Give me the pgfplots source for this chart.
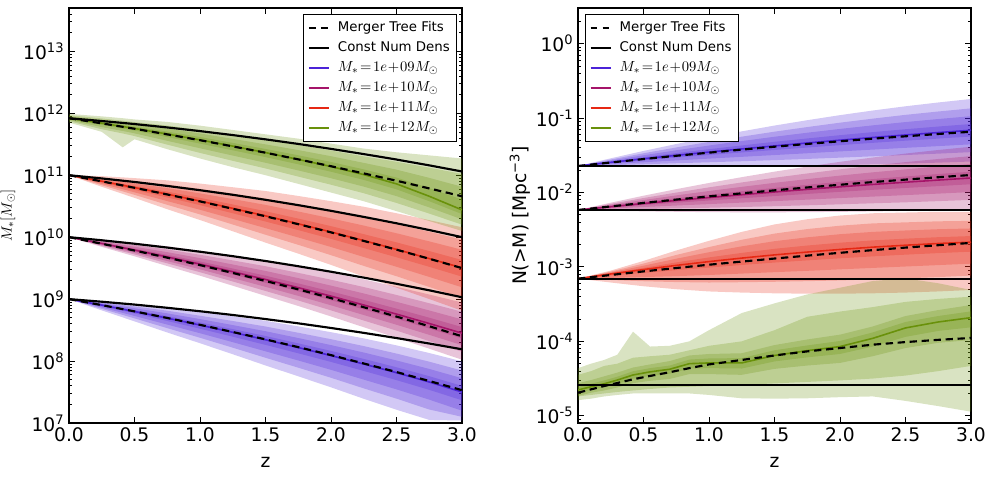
\documentclass[border=0pt]{standalone}
\usepackage{fontspec}
\setmainfont{DejaVu Sans}
\usepackage{pgfplots}
\pgfplotsset{compat=1.18}
\usepackage{pgfplotstable}
\usepgfplotslibrary{fillbetween}

\definecolor{cNine}{RGB}{75,35,215}
\definecolor{cTen}{RGB}{165,20,105}
\definecolor{cEleven}{RGB}{230,40,20}
\definecolor{cTwelve}{RGB}{105,145,10}

% All values are log10: stellar mass (left) and number density (right).
% med = median track, dash = merger tree fit, cnd = constant number density,
% lo/hi 1..4 = nested percentile bands (outer to inner).
\pgfplotstableread{
z med dash cnd lo1 hi1 lo2 hi2 lo3 hi3 lo4 hi4
0 9.000 9.000 9.000 9.000 9.000 9.000 9.000 9.000 9.000 9.000 9.000
0.25 8.903 8.903 8.958 8.818 8.966 8.843 8.947 8.865 8.931 8.886 8.916
0.5 8.800 8.802 8.912 8.641 8.917 8.689 8.882 8.728 8.853 8.768 8.823
0.75 8.693 8.696 8.860 8.461 8.864 8.531 8.813 8.589 8.770 8.647 8.727
1.0 8.581 8.585 8.804 8.288 8.797 8.376 8.732 8.449 8.678 8.522 8.624
1.25 8.464 8.469 8.744 8.110 8.725 8.216 8.647 8.305 8.581 8.393 8.516
1.5 8.344 8.350 8.678 7.929 8.650 8.053 8.558 8.157 8.482 8.261 8.405
1.75 8.218 8.225 8.609 7.754 8.560 7.893 8.457 8.009 8.372 8.125 8.286
2.0 8.088 8.096 8.534 7.576 8.466 7.730 8.353 7.858 8.258 7.986 8.164
2.25 7.952 7.961 8.455 7.391 8.366 7.559 8.242 7.700 8.138 7.840 8.035
2.5 7.812 7.823 8.371 7.214 8.253 7.393 8.121 7.543 8.010 7.692 7.900
2.75 7.662 7.678 8.283 7.050 8.130 7.218 7.990 7.377 7.873 7.535 7.756
3.0 7.500 7.530 8.190 7.040 7.995 7.100 7.847 7.198 7.723 7.366 7.599
}\LB
\pgfplotstableread{
z med dash cnd lo1 hi1 lo2 hi2 lo3 hi3 lo4 hi4
0 10.000 10.000 10.000 10.000 10.000 10.000 10.000 10.000 10.000 10.000 10.000
0.25 9.898 9.894 9.950 9.843 9.961 9.859 9.942 9.873 9.926 9.887 9.911
0.5 9.792 9.784 9.894 9.691 9.909 9.721 9.874 9.747 9.845 9.772 9.815
0.75 9.681 9.669 9.832 9.533 9.852 9.577 9.801 9.614 9.758 9.651 9.715
1.0 9.565 9.549 9.765 9.378 9.781 9.434 9.716 9.481 9.662 9.528 9.608
1.25 9.442 9.422 9.693 9.216 9.703 9.284 9.625 9.340 9.559 9.397 9.494
1.5 9.317 9.293 9.615 9.052 9.623 9.131 9.531 9.198 9.455 9.264 9.378
1.75 9.185 9.157 9.531 8.889 9.527 8.978 9.424 9.052 9.339 9.126 9.253
2.0 9.048 9.016 9.442 8.720 9.426 8.818 9.313 8.900 9.218 8.982 9.124
2.25 8.905 8.869 9.347 8.546 9.319 8.654 9.195 8.743 9.091 8.833 8.988
2.5 8.758 8.718 9.247 8.376 9.199 8.491 9.067 8.586 8.956 8.682 8.846
2.75 8.606 8.562 9.142 8.200 9.074 8.322 8.934 8.423 8.817 8.525 8.700
3.0 8.450 8.400 9.030 8.021 8.945 8.150 8.797 8.257 8.673 8.364 8.549
}\LM
\pgfplotstableread{
z med dash cnd lo1 hi1 lo2 hi2 lo3 hi3 lo4 hi4
0 11.000 11.000 11.000 11.000 11.000 11.000 11.000 11.000 11.000 11.000 11.000
0.25 10.903 10.901 10.948 10.813 10.985 10.839 10.960 10.861 10.939 10.883 10.918
0.5 10.801 10.797 10.891 10.634 10.953 10.683 10.906 10.724 10.867 10.764 10.828
0.75 10.694 10.689 10.827 10.451 10.917 10.522 10.849 10.582 10.792 10.641 10.735
1.0 10.583 10.577 10.758 10.277 10.865 10.367 10.779 10.442 10.707 10.517 10.635
1.25 10.465 10.458 10.684 10.095 10.806 10.204 10.702 10.295 10.615 10.385 10.528
1.5 10.344 10.337 10.603 9.912 10.745 10.039 10.623 10.146 10.521 10.252 10.419
1.75 10.216 10.209 10.517 9.734 10.665 9.876 10.528 9.995 10.414 10.114 10.300
2.0 10.084 10.077 10.425 9.552 10.581 9.709 10.430 9.841 10.304 9.972 10.178
2.25 9.945 9.939 10.327 9.364 10.491 9.536 10.325 9.680 10.187 9.824 10.049
2.5 9.803 9.798 10.224 9.185 10.386 9.369 10.210 9.522 10.063 9.675 9.916
2.75 9.654 9.651 10.115 9.001 10.275 9.196 10.088 9.358 9.932 9.521 9.776
3.0 9.505 9.500 10.000 8.812 10.160 9.018 9.962 9.190 9.797 9.362 9.632
}\LR
\pgfplotstableread{
z med dash cnd lo1 hi1 lo2 hi2 lo3 hi3 lo4 hi4
0 11.920 11.920 11.920 11.850 11.990 11.871 11.969 11.888 11.952 11.906 11.934
0.25 11.840 11.837 11.875 11.700 11.950 11.742 11.917 11.777 11.890 11.812 11.862
0.41 11.786 11.781 11.844 11.450 11.920 11.674 11.880 11.714 11.846 11.754 11.813
0.5 11.755 11.750 11.826 11.580 11.900 11.632 11.857 11.676 11.820 11.720 11.784
0.75 11.665 11.659 11.771 11.420 11.860 11.493 11.802 11.555 11.753 11.616 11.704
1.0 11.570 11.565 11.712 11.270 11.800 11.360 11.731 11.435 11.674 11.510 11.616
1.25 11.470 11.465 11.648 11.130 11.730 11.232 11.652 11.317 11.587 11.402 11.522
1.5 11.365 11.363 11.579 11.000 11.660 11.109 11.572 11.201 11.498 11.292 11.424
1.75 11.255 11.256 11.505 10.860 11.590 10.978 11.490 11.077 11.406 11.176 11.322
2.0 11.140 11.145 11.425 10.720 11.510 10.846 11.399 10.951 11.307 11.056 11.214
2.25 11.010 11.029 11.341 10.580 11.430 10.709 11.304 10.816 11.199 10.924 11.094
2.5 10.860 10.911 11.253 10.420 11.370 10.552 11.217 10.662 11.090 10.772 10.962
2.75 10.660 10.787 11.159 10.260 11.320 10.380 11.122 10.480 10.957 10.580 10.792
3.0 10.440 10.660 11.060 10.100 11.270 10.202 11.021 10.287 10.814 10.372 10.606
}\LG
\pgfplotstableread{
z med dash cnd lo1 hi1 lo2 hi2 lo3 hi3 lo4 hi4
0 -1.645 -1.645 -1.645 -1.645 -1.645 -1.645 -1.645 -1.645 -1.645 -1.645 -1.645
0.25 -1.596 -1.598 -1.645 -1.650 -1.542 -1.634 -1.558 -1.620 -1.572 -1.607 -1.585
0.5 -1.548 -1.552 -1.645 -1.653 -1.443 -1.622 -1.474 -1.595 -1.501 -1.569 -1.527
0.75 -1.502 -1.508 -1.645 -1.654 -1.350 -1.608 -1.396 -1.570 -1.434 -1.532 -1.472
1.0 -1.458 -1.466 -1.645 -1.654 -1.262 -1.595 -1.321 -1.546 -1.370 -1.497 -1.419
1.25 -1.416 -1.425 -1.645 -1.652 -1.180 -1.581 -1.251 -1.522 -1.310 -1.463 -1.369
1.5 -1.375 -1.386 -1.645 -1.648 -1.102 -1.566 -1.184 -1.498 -1.252 -1.430 -1.320
1.75 -1.336 -1.349 -1.645 -1.642 -1.030 -1.550 -1.122 -1.474 -1.198 -1.397 -1.275
2.0 -1.298 -1.313 -1.645 -1.634 -0.962 -1.533 -1.063 -1.449 -1.147 -1.365 -1.231
2.25 -1.262 -1.278 -1.645 -1.624 -0.900 -1.515 -1.009 -1.425 -1.099 -1.334 -1.190
2.5 -1.228 -1.246 -1.645 -1.613 -0.843 -1.498 -0.958 -1.401 -1.055 -1.305 -1.151
2.75 -1.196 -1.215 -1.645 -1.600 -0.792 -1.479 -0.913 -1.378 -1.014 -1.277 -1.115
3.0 -1.165 -1.185 -1.645 -1.585 -0.745 -1.459 -0.871 -1.354 -0.976 -1.249 -1.081
}\RB
\pgfplotstableread{
z med dash cnd lo1 hi1 lo2 hi2 lo3 hi3 lo4 hi4
0 -2.236 -2.236 -2.236 -2.236 -2.236 -2.236 -2.236 -2.236 -2.236 -2.236 -2.236
0.25 -2.192 -2.188 -2.236 -2.246 -2.138 -2.230 -2.154 -2.216 -2.168 -2.203 -2.181
0.5 -2.149 -2.141 -2.236 -2.254 -2.044 -2.223 -2.075 -2.196 -2.102 -2.170 -2.128
0.75 -2.108 -2.096 -2.236 -2.260 -1.956 -2.214 -2.002 -2.176 -2.040 -2.138 -2.078
1.0 -2.069 -2.053 -2.236 -2.265 -1.873 -2.206 -1.932 -2.157 -1.981 -2.108 -2.030
1.25 -2.031 -2.012 -2.236 -2.267 -1.795 -2.196 -1.866 -2.137 -1.925 -2.078 -1.984
1.5 -1.994 -1.972 -2.236 -2.267 -1.721 -2.185 -1.803 -2.117 -1.871 -2.049 -1.939
1.75 -1.959 -1.933 -2.236 -2.265 -1.653 -2.173 -1.745 -2.097 -1.821 -2.020 -1.898
2.0 -1.925 -1.897 -2.236 -2.261 -1.589 -2.160 -1.690 -2.076 -1.774 -1.992 -1.858
2.25 -1.893 -1.861 -2.236 -2.255 -1.531 -2.146 -1.640 -2.056 -1.730 -1.965 -1.821
2.5 -1.863 -1.828 -2.236 -2.248 -1.478 -2.133 -1.593 -2.036 -1.690 -1.940 -1.786
2.75 -1.834 -1.796 -2.236 -2.238 -1.430 -2.117 -1.551 -2.016 -1.652 -1.915 -1.753
3.0 -1.806 -1.766 -2.236 -2.226 -1.386 -2.100 -1.512 -1.995 -1.617 -1.890 -1.722
}\RM
\pgfplotstableread{
z med dash cnd lo1 hi1 lo2 hi2 lo3 hi3 lo4 hi4
0 -3.158 -3.158 -3.158 -3.158 -3.158 -3.158 -3.158 -3.158 -3.158 -3.158 -3.158
0.25 -3.095 -3.109 -3.158 -3.210 -3.050 -3.176 -3.063 -3.147 -3.075 -3.118 -3.086
0.5 -3.036 -3.061 -3.158 -3.260 -2.920 -3.193 -2.955 -3.137 -2.984 -3.081 -3.013
0.75 -2.980 -3.015 -3.158 -3.300 -2.780 -3.204 -2.840 -3.124 -2.890 -3.044 -2.940
1.0 -2.929 -2.971 -3.158 -3.330 -2.650 -3.210 -2.734 -3.109 -2.803 -3.009 -2.873
1.25 -2.882 -2.929 -3.158 -3.345 -2.530 -3.206 -2.636 -3.090 -2.724 -2.975 -2.812
1.5 -2.839 -2.888 -3.158 -3.355 -2.430 -3.200 -2.553 -3.071 -2.655 -2.942 -2.757
1.75 -2.801 -2.849 -3.158 -3.360 -2.360 -3.192 -2.492 -3.053 -2.603 -2.913 -2.713
2.0 -2.766 -2.811 -3.158 -3.360 -2.310 -3.182 -2.447 -3.033 -2.561 -2.885 -2.675
2.25 -2.735 -2.775 -3.158 -3.355 -2.280 -3.169 -2.416 -3.014 -2.530 -2.859 -2.644
2.5 -2.709 -2.741 -3.158 -3.345 -2.270 -3.154 -2.402 -2.995 -2.511 -2.836 -2.621
2.75 -2.686 -2.709 -3.158 -3.330 -2.260 -3.137 -2.388 -2.976 -2.494 -2.815 -2.601
3.0 -2.668 -2.678 -3.158 -3.310 -2.260 -3.117 -2.382 -2.957 -2.484 -2.796 -2.586
}\RR
\pgfplotstableread{
z med dash cnd lo1 hi1 lo2 hi2 lo3 hi3 lo4 hi4
0 -4.653 -4.690 -4.586 -4.790 -4.360 -4.740 -4.450 -4.733 -4.563 -4.693 -4.613
0.1 -4.610 -4.645 -4.586 -4.770 -4.300 -4.720 -4.400 -4.690 -4.520 -4.650 -4.570
0.2 -4.570 -4.600 -4.586 -4.740 -4.250 -4.700 -4.330 -4.660 -4.470 -4.615 -4.525
0.3 -4.520 -4.560 -4.586 -4.720 -4.180 -4.680 -4.300 -4.620 -4.420 -4.570 -4.475
0.42 -4.452 -4.510 -4.586 -4.700 -3.870 -4.660 -4.220 -4.562 -4.352 -4.502 -4.402
0.55 -4.410 -4.465 -4.586 -4.700 -4.070 -4.640 -4.200 -4.530 -4.310 -4.465 -4.360
0.7 -4.375 -4.415 -4.586 -4.700 -4.060 -4.620 -4.180 -4.505 -4.265 -4.435 -4.325
0.85 -4.300 -4.360 -4.586 -4.700 -4.000 -4.610 -4.120 -4.440 -4.190 -4.365 -4.245
1.0 -4.290 -4.310 -4.586 -4.720 -3.850 -4.600 -4.060 -4.440 -4.170 -4.360 -4.230
1.25 -4.290 -4.250 -4.586 -4.765 -3.620 -4.585 -4.000 -4.450 -4.160 -4.365 -4.225
1.5 -4.190 -4.190 -4.586 -4.770 -3.490 -4.565 -3.850 -4.370 -4.050 -4.270 -4.120
1.75 -4.125 -4.135 -4.586 -4.765 -3.370 -4.545 -3.670 -4.325 -3.975 -4.215 -4.055
2.0 -4.070 -4.090 -4.586 -4.750 -3.280 -4.525 -3.600 -4.290 -3.910 -4.170 -3.995
2.25 -3.960 -4.045 -4.586 -4.740 -3.190 -4.500 -3.540 -4.200 -3.800 -4.070 -3.880
2.5 -3.820 -4.010 -4.586 -4.800 -3.155 -4.460 -3.470 -4.090 -3.660 -3.940 -3.740
2.75 -3.740 -3.980 -4.586 -4.870 -3.220 -4.400 -3.430 -4.020 -3.580 -3.860 -3.660
3.0 -3.682 -3.955 -4.586 -4.945 -3.310 -4.330 -3.400 -3.982 -3.512 -3.812 -3.597
}\RG

% one shaded percentile band: table, lower column, upper column, colour, path id
\newcommand{\oneband}[5]{%
  \addplot[name path=#5l, draw=none, forget plot] table[x=z, y=#2] {#1};
  \addplot[name path=#5u, draw=none, forget plot] table[x=z, y=#3] {#1};
  \addplot[fill=#4, fill opacity=0.25, draw=none, forget plot] fill between[of=#5l and #5u];
}
% the four nested bands of one mass bin
\newcommand{\allbands}[3]{%
  \oneband{#1}{lo1}{hi1}{#2}{#3a}
  \oneband{#1}{lo2}{hi2}{#2}{#3b}
  \oneband{#1}{lo3}{hi3}{#2}{#3c}
  \oneband{#1}{lo4}{hi4}{#2}{#3d}
}
% median, merger tree fit and constant number density tracks
\newcommand{\tracks}[2]{%
  \addplot[#2, line width=1.2pt, forget plot] table[x=z, y=med] {#1};
  \addplot[black, line width=1.6pt, dash pattern=on 5.5pt off 3.5pt, forget plot] table[x=z, y=dash] {#1};
  \addplot[black, line width=1.6pt, forget plot] table[x=z, y=cnd] {#1};
}
% mass label in the legend
\newcommand{\mlabel}[1]{{\fontsize{11}{12}\selectfont$M_*\!=\!1e\!+\!#1M_\odot$}}
% the six legend rows shared by both panels
\newcommand{\legendrows}{%
  \addlegendimage{black, line width=1.6pt, dash pattern=on 5pt off 4pt}
  \addlegendentry{Merger Tree Fits}
  \addlegendimage{black, line width=1.6pt}
  \addlegendentry{Const Num Dens}
  \addlegendimage{cNine, line width=1.6pt}
  \addlegendentry{\mlabel{09}}
  \addlegendimage{cTen, line width=1.6pt}
  \addlegendentry{\mlabel{10}}
  \addlegendimage{cEleven, line width=1.6pt}
  \addlegendentry{\mlabel{11}}
  \addlegendimage{cTwelve, line width=1.6pt}
  \addlegendentry{\mlabel{12}}
}

\pgfplotsset{
  panel/.style={
    scale only axis, width=294.75pt, height=311.25pt,
    xmin=0, xmax=3,
    xtick={0,0.5,1,1.5,2,2.5,3},
    xticklabels={0.0,0.5,1.0,1.5,2.0,2.5,3.0},
    tick align=inside, tick pos=both,
    major tick length=4.2pt, minor tick length=2.1pt,
    every tick/.style={black, line width=0.6pt},
    axis line style={line width=0.8pt},
    tick label style={font=\fontsize{14}{16}\selectfont},
    label style={font=\fontsize{14}{16}\selectfont},
    xlabel={z},
    xlabel style={at={(axis description cs:0.5,-0.094)}, anchor=center},
    legend cell align=left,
    legend image code/.code={\draw[##1] (0pt,0pt) -- (15pt,0pt);},
    legend style={font=\fontsize{10}{12}\selectfont, draw=black, line width=0.75pt,
      inner xsep=3pt, inner ysep=2.5pt, row sep=0pt, column sep=4pt,
      nodes={text height=7.8pt, text depth=2.8pt, inner ysep=2.2pt}},
  },
}

\begin{document}
\begin{tikzpicture}

% stellar mass growth
\begin{axis}[panel,
  at={(51.75pt,42.75pt)}, anchor=south west,
  ymin=7, ymax=13.699,
  ytick={7,8,9,10,11,12,13},
  yticklabels={10\textsuperscript{7},10\textsuperscript{8},10\textsuperscript{9},10\textsuperscript{10},10\textsuperscript{11},10\textsuperscript{12},10\textsuperscript{13}},
  minor ytick={7.301,7.477,7.602,7.699,7.778,7.845,7.903,7.954,
    8.301,8.477,8.602,8.699,8.778,8.845,8.903,8.954,
    9.301,9.477,9.602,9.699,9.778,9.845,9.903,9.954,
    10.301,10.477,10.602,10.699,10.778,10.845,10.903,10.954,
    11.301,11.477,11.602,11.699,11.778,11.845,11.903,11.954,
    12.301,12.477,12.602,12.699,12.778,12.845,12.903,12.954,
    13.301,13.477,13.602},
  ylabel={$M_*[M_\odot]$},
  ylabel style={at={(axis description cs:-0.155,0.5)}, anchor=center, font=\fontsize{11}{13}\selectfont},
  legend style={at={(1,1)}, anchor=north east, xshift=-3.75pt, yshift=-4.5pt},
]
\legendrows
\allbands{\LB}{cNine}{LB}
\allbands{\LM}{cTen}{LM}
\allbands{\LR}{cEleven}{LR}
\allbands{\LG}{cTwelve}{LG}
\tracks{\LB}{cNine}
\tracks{\LM}{cTen}
\tracks{\LR}{cEleven}
\tracks{\LG}{cTwelve}
\end{axis}

% cumulative number density
\begin{axis}[panel,
  at={(433.5pt,42.75pt)}, anchor=south west,
  ymin=-5.097, ymax=0.477,
  ytick={-5,-4,-3,-2,-1,0},
  yticklabels={10\textsuperscript{-5},10\textsuperscript{-4},10\textsuperscript{-3},10\textsuperscript{-2},10\textsuperscript{-1},10\textsuperscript{0}},
  minor ytick={-5.046,
    -4.699,-4.523,-4.398,-4.301,-4.222,-4.155,-4.097,-4.046,
    -3.699,-3.523,-3.398,-3.301,-3.222,-3.155,-3.097,-3.046,
    -2.699,-2.523,-2.398,-2.301,-2.222,-2.155,-2.097,-2.046,
    -1.699,-1.523,-1.398,-1.301,-1.222,-1.155,-1.097,-1.046,
    -0.699,-0.523,-0.398,-0.301,-0.222,-0.155,-0.097,-0.046,
    0.301},
  ylabel={N(>M) [Mpc\textsuperscript{−3}]},
  ylabel style={at={(axis description cs:-0.148,0.5)}, anchor=center},
  legend style={at={(0,1)}, anchor=north west, xshift=5.25pt, yshift=-4.5pt},
]
\legendrows
\allbands{\RB}{cNine}{RB}
\allbands{\RM}{cTen}{RM}
\allbands{\RR}{cEleven}{RR}
\allbands{\RG}{cTwelve}{RG}
\tracks{\RB}{cNine}
\tracks{\RM}{cTen}
\tracks{\RR}{cEleven}
\tracks{\RG}{cTwelve}
\end{axis}

% page frame of fixed size
\pgfresetboundingbox
\useasboundingbox (0,0) rectangle (751.5pt,360pt);
\end{tikzpicture}
\end{document}
